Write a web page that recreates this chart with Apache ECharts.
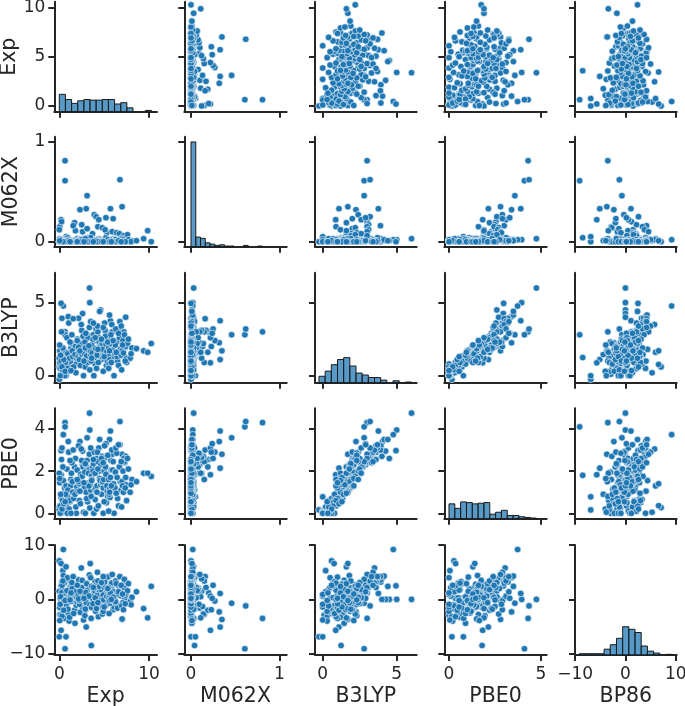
<!DOCTYPE html>
<html><head><meta charset="utf-8">
<script src="https://cdn.jsdelivr.net/npm/echarts@6/dist/echarts.min.js"></script>
<style>html,body{margin:0;padding:0;background:#fff}#c{width:685px;height:706px}</style>
</head><body><div id="c"></div>
<script>
// ---------- DATA ----------
const varNames = ['Exp', 'M062X', 'B3LYP', 'PBE0', 'BP86'];

const exp = [
 3.37,3.4,0.45,0.2,0.64,0.64,6.76,3.1,7.0,3.0,
 2.3,5.7,0.2,0.0,0.2,0.0,0.75,3.57,4.6,2.6,
 7.4,0.3,1.0,2.15,5.6,0.05,0.0,0.15,0.3,0.1,
 0.4,0.55,0.2,0.6,0.05,0.35,0.5,0.25,0.6,0.45,
 0.8,0.9,1.0,1.2,0.75,1.3,1.1,0.85,1.25,0.95,
 1.35,0.7,1.05,1.15,0.9,1.7,1.8,1.5,1.9,1.45,
 2.0,1.6,1.55,1.95,1.4,1.75,1.85,2.6,2.1,2.4,
 2.7,2.25,2.5,2.2,2.65,2.35,2.55,2.15,2.45,3.1,
 2.8,3.2,2.9,3.3,3.0,3.35,2.85,3.15,3.25,2.95,
 3.05,3.4,3.9,3.7,3.5,3.6,4.0,3.45,3.8,3.55,
 4.1,3.65,3.85,3.75,3.95,3.5,4.05,4.4,4.2,4.5,
 4.7,4.3,4.6,4.15,4.45,4.75,4.25,4.55,4.35,4.65,
 4.2,4.5,4.8,5.2,5.3,4.9,5.0,5.4,5.1,4.85,
 5.25,5.45,4.95,5.15,5.35,5.05,4.9,5.3,5.2,6.0,
 5.6,5.8,6.1,5.5,5.9,5.65,6.05,5.75,5.55,5.95,
 5.85,6.15,5.7,5.5,6.4,6.2,6.7,6.5,6.3,6.8,
 6.6,6.25,6.75,6.45,7.3,6.9,7.1,7.5,7.2,7.0,
 7.4,6.95,7.25,7.45,7.15,7.6,7.9,8.1,7.7,8.0,
 8.6,9.4,10.25,9.85,
 0.1,0.3,0.5,0.15,0.65,0.4,0.05,1.3,2.3,2.9,
 3.3,3.6,4.0,4.3,4.7,5.0,5.4,5.6,6.0,6.35,
 6.6,7.05,7.35,2.0,1.2,3.8,4.9,5.8,2.75,6.9
];
const m062x = [
 0.03,0.02,0.02,0.0,0.81,0.61,0.62,0.46,0.35,0.33,
 0.32,0.33,0.22,0.0,0.01,0.0,0.05,0.04,0.01,0.01,
 0.02,0.0,0.01,0.03,0.02,0.15,0.12,0.0,0.01,0.0,
 0.01,0.02,0.0,0.02,0.03,0.0,0.01,0.2,0.0,0.01,
 0.0,0.02,0.01,0.0,0.03,0.0,0.02,0.01,0.0,0.04,
 0.01,0.0,0.02,0.0,0.01,0.19,0.11,0.0,0.02,0.01,
 0.01,0.0,0.16,0.03,0.0,0.01,0.0,0.1,0.02,0.0,
 0.01,0.01,0.17,0.0,0.03,0.0,0.02,0.01,0.02,0.13,
 0.0,0.04,0.01,0.01,0.0,0.03,0.0,0.02,0.01,0.02,
 0.0,0.01,0.27,0.08,0.0,0.02,0.01,0.01,0.0,0.03,
 0.25,0.0,0.01,0.02,0.0,0.04,0.01,0.22,0.0,0.02,
 0.01,0.15,0.0,0.01,0.03,0.0,0.02,0.01,0.0,0.02,
 0.0,0.01,0.14,0.24,0.09,0.0,0.02,0.01,0.12,0.0,
 0.03,0.01,0.0,0.02,0.02,0.0,0.01,0.0,0.04,0.23,
 0.0,0.01,0.02,0.01,0.1,0.0,0.03,0.01,0.0,0.02,
 0.01,0.0,0.02,0.0,0.09,0.01,0.08,0.0,0.01,0.03,
 0.0,0.02,0.01,0.0,0.06,0.01,0.0,0.02,0.06,0.01,
 0.0,0.03,0.01,0.0,0.02,0.07,0.0,0.01,0.02,0.0,
 0.01,0.03,0.0,0.11,
 0.0,0.01,0.0,0.02,0.0,0.0,0.01,0.0,0.0,0.03,
 0.0,0.0,0.01,0.0,0.0,0.0,0.02,0.0,0.0,0.0,
 0.01,0.0,0.0,0.0,0.0,0.0,0.0,0.0,0.0,0.0
];
const b3lyp = [
 6.0,5.0,4.77,4.95,3.0,2.8,3.2,2.8,1.7,1.1,
 2.25,3.76,0.88,0.6,0.77,-0.25,0.0,1.24,4.5,4.25,
 4.0,3.93,4.04,3.93,4.15,0.9,1.2,0.1,0.3,0.5,
 0.2,0.7,1.0,1.5,1.7,0.4,1.3,3.0,0.0,1.8,
 0.6,1.1,1.4,0.8,1.6,1.9,0.3,2.6,1.0,1.5,
 2.2,0.9,3.6,1.2,0.5,1.6,2.0,1.3,0.8,1.7,
 2.5,0.6,3.9,1.2,2.8,1.45,0.2,1.8,1.3,2.2,
 0.0,1.1,3.1,1.6,2.7,0.7,1.45,1.95,3.5,2.0,
 1.5,2.6,0.6,1.8,1.2,3.3,2.3,0.9,1.65,2.9,
 1.35,0.4,2.4,1.9,1.4,2.1,0.8,1.7,2.8,1.0,
 3.2,1.55,0.0,2.5,1.25,3.7,1.85,2.6,1.5,2.0,
 1.1,3.0,1.7,0.5,2.3,1.3,3.4,1.9,0.9,2.1,
 1.4,4.4,2.2,2.9,1.6,1.5,2.4,1.2,3.1,1.8,
 0.7,2.0,1.4,2.7,1.0,3.6,0.3,1.65,2.15,2.0,
 1.4,2.5,0.0,1.9,3.0,1.1,1.6,2.8,0.8,1.75,
 3.5,1.3,2.2,0.5,2.3,1.5,2.6,1.0,3.2,1.8,
 0.7,2.1,3.7,1.3,1.9,1.4,2.4,0.9,3.0,1.7,
 2.0,0.4,2.8,1.2,1.55,2.2,1.2,1.9,2.5,1.5,
 1.85,1.7,2.2,1.6,
 0.0,0.6,1.1,1.4,0.3,1.9,2.1,0.35,1.7,1.9,
 2.05,1.2,2.6,1.8,2.5,1.3,2.3,1.7,2.4,1.6,
 2.9,2.1,1.0,2.4,2.3,3.6,3.3,0.9,1.0,3.4
];
const pbe0 = [
 4.75,3.95,3.73,2.97,4.3,4.1,4.35,3.58,2.8,2.14,
 3.4,3.9,1.83,0.27,0.36,0.16,0.78,1.8,2.6,2.95,
 2.7,3.1,3.4,3.2,3.5,1.6,1.9,0.0,0.15,0.35,
 0.05,0.5,0.75,1.2,1.45,0.6,0.95,2.55,0.1,1.55,
 0.4,0.8,1.15,0.55,1.3,1.6,0.2,2.1,1.3,1.1,
 1.9,0.9,2.9,0.6,0.0,2.2,2.6,1.0,0.0,1.5,
 2.05,0.7,3.0,1.25,2.4,0.9,0.3,2.3,1.05,1.85,
 0.05,0.6,2.5,1.4,2.2,0.45,1.75,1.5,3.05,2.5,
 1.25,2.15,0.0,1.45,1.0,2.8,1.95,0.55,1.9,2.3,
 0.7,0.25,2.9,2.2,1.1,1.8,0.65,1.4,2.35,0.8,
 2.6,1.6,0.0,2.0,1.15,3.1,1.2,3.1,1.3,1.65,
 0.9,2.45,1.35,0.2,2.0,1.45,2.9,1.55,0.35,2.3,
 1.0,3.5,2.7,3.3,1.9,1.2,2.0,0.8,2.65,1.5,
 0.5,1.75,1.6,2.2,1.05,3.2,0.0,1.3,1.85,2.9,
 1.15,2.05,0.0,1.6,2.8,0.75,1.4,2.5,0.9,2.05,
 3.0,1.1,1.7,0.1,2.85,1.2,2.2,0.7,3.1,1.5,
 0.35,1.95,3.25,1.7,2.4,1.1,2.0,0.6,2.6,1.5,
 1.7,0.3,2.45,1.35,1.0,2.6,1.0,1.6,2.1,1.35,
 1.5,1.9,1.75,1.9,
 0.0,0.2,0.45,0.9,0.55,2.2,1.65,0.0,1.05,2.35,
 1.3,1.55,1.9,2.1,2.6,0.55,2.75,1.0,2.45,0.95,
 3.25,1.3,1.2,1.6,2.5,2.55,2.4,1.3,1.45,2.45
];
const bp86 = [
 0.0,0.0,9.2,2.5,-3.5,-9.1,-1.2,-0.7,-3.7,-5.1,
 -2.3,1.1,-5.7,7.1,6.6,-6.9,-6.9,-8.5,0.0,0.0,
 0.0,3.2,4.0,3.6,4.3,-2.8,1.5,-2.9,-3.1,0.2,
 5.3,3.0,-0.8,0.9,-1.5,1.8,-0.3,1.2,0.6,4.4,
 -1.2,0.3,-2.5,2.2,6.0,-0.4,-4.0,1.6,0.8,-1.8,
 2.7,0.0,3.7,-3.3,4.0,-2.0,0.5,1.0,-1.1,2.0,
 -0.5,-2.6,4.2,0.4,3.1,-4.4,1.4,-1.6,0.7,1.9,
 -3.8,-0.9,2.2,-0.2,0.9,-2.4,3.5,0.1,5.8,-1.3,
 1.1,2.5,-2.0,0.3,-0.6,4.5,-3.0,1.7,0.8,1.3,
 2.9,-1.0,-0.3,2.1,0.5,-1.5,3.3,6.6,1.0,-3.5,
 2.6,0.2,0.9,-0.8,1.6,4.0,-2.2,0.6,2.0,-1.0,
 0.4,3.4,-0.2,-1.7,1.3,2.8,5.0,0.0,-3.2,1.8,
 0.7,2.4,-2.7,0.2,1.5,0.8,2.3,-0.5,3.8,-1.3,
 0.3,1.1,-0.1,2.6,4.1,3.2,-2.2,0.5,-1.1,-1.9,
 0.9,2.0,-1.4,0.1,4.6,-0.7,1.4,2.8,-2.6,0.6,
 3.0,-0.3,1.2,2.2,-0.9,0.4,1.8,-1.6,3.4,0.7,
 2.5,-0.4,4.2,1.0,0.3,1.9,-0.6,3.0,2.2,-3.6,
 0.8,-1.2,3.7,1.2,-1.9,1.6,-0.4,0.4,2.9,-1.0,
 1.4,-1.7,2.4,-3.4,
 -0.9,2.6,-2.0,0.5,-0.2,3.4,-3.9,1.2,1.5,-1.8,
 0.6,2.4,0.3,-0.6,3.1,-1.4,2.0,-0.2,0.4,2.9,
 1.4,1.0,-0.8,2.6,-0.1,2.2,4.2,0.0,0.2,2.6
];

// histogram counts (15 equal bins over each variable's data range)
const expHist   = [27,19,13,17,19,18,18,19,19,12,14,6,0,0,2];
const m062xHist = [163,15,13,6,4,2,3,1,1,0,0,2,0,0,1];
const b3lypHist = [10,18,28,36,39,26,15,12,8,8,4,0,3,0,1];
const pbe0Hist  = [23,16,26,25,23,24,25,7,10,13,5,5,3,2,1];
const bp86Hist  = [2,2,2,2,9,16,26,44,40,35,14,6,3,0,1];
const histRange = [[0,10.27],[0,0.81],[-0.25,6.0],[0,4.75],[-9.16,9.29]];

// tick values
const xTickVals = [[0,10],[0,1],[0,5],[0,5],[-10,0,10]];
const yTickVals = [[0,5,10],[0,1],[0,5],[0,2,4],[-10,0,10]];

// ---------- LAYOUT ----------
const colLeft  = [54.3,184.3,315,444.3,575];
const colWidth = [102.7,102.4,101.7,102.4,101.7];
const rowTop   = [1.7,136.7,272.7,408.3,545];
const rowHeight= [110,110,110,110.4,110];
const xRange = [[-0.557,10.89],[-0.076,1.084],[-0.52,6.35],[-0.255,5.31],[-10.03,10.2]];
const yRange = [[-0.578,10.57],[-0.05,1.05],[-0.48,7.05],[-0.257,4.98],[-10.25,10.03]];

const cols = [exp, m062x, b3lyp, pbe0, bp86];
const hists = [expHist, m062xHist, b3lypHist, pbe0Hist, bp86Hist];
const countMax = Math.max(...hists.map(h => Math.max(...h))) * 1.05;

const INK = '#262626';
const FONT = 'DejaVu Sans';
const TICK_FS = 17, NAME_FS = 20.5;
const fmt = v => v < 0 ? '\u2212' + Math.abs(v) : String(v);

const grids = [], xAxes = [], yAxes = [], series = [];

for (let i = 0; i < 5; i++) {
  for (let j = 0; j < 5; j++) {
    const g = i * 5 + j;
    grids.push({ left: colLeft[j], top: rowTop[i], width: colWidth[j], height: rowHeight[i],
                 containLabel: false, outerBoundsMode: 'none' });
    xAxes.push({
      type: 'value', gridIndex: g, min: xRange[j][0], max: xRange[j][1],
      axisLine: { show: true, onZero: false, lineStyle: { color: INK, width: 2 } },
      splitLine: { show: false },
      axisTick: { show: true, length: 6, customValues: xTickVals[j], lineStyle: { color: INK, width: 2 } },
      axisLabel: { show: i === 4, customValues: xTickVals[j], formatter: fmt, margin: 11,
                   showMinLabel: true, showMaxLabel: true,
                   fontFamily: FONT, fontSize: TICK_FS, color: INK },
      name: i === 4 ? varNames[j] : '', nameLocation: 'middle', nameGap: 31,
      nameTextStyle: { fontFamily: FONT, fontSize: NAME_FS, color: INK }
    });
    yAxes.push({
      type: 'value', gridIndex: g, min: yRange[i][0], max: yRange[i][1],
      axisLine: { show: true, onZero: false, lineStyle: { color: INK, width: 2 } },
      splitLine: { show: false },
      axisTick: { show: true, length: 6, customValues: yTickVals[i], lineStyle: { color: INK, width: 2 } },
      axisLabel: { show: j === 0, customValues: yTickVals[i], formatter: fmt, margin: 9,
                   showMinLabel: true, showMaxLabel: true,
                   fontFamily: FONT, fontSize: TICK_FS, color: INK },
      name: j === 0 ? varNames[i] : '', nameLocation: 'middle', nameGap: 32, nameRotate: 90,
      nameTextStyle: { fontFamily: FONT, fontSize: NAME_FS, color: INK }
    });
    if (i !== j) {
      const xs = cols[j], ys = cols[i];
      series.push({
        type: 'scatter', xAxisIndex: g, yAxisIndex: g,
        symbol: 'circle', symbolSize: 6.6,
        itemStyle: { color: '#1f77b4', borderColor: '#ffffff', borderWidth: 0.6, opacity: 1 },
        data: xs.map((v, k) => [v, ys[k]]),
        silent: true, z: 2
      });
    }
  }
}
// hidden count axes for diagonal histograms
for (let i = 0; i < 5; i++) {
  const g = i * 5 + i;
  yAxes.push({ type: 'value', gridIndex: g, min: 0, max: countMax, show: false, splitLine: { show: false } });
  const h = hists[i], r = histRange[i], n = h.length, w = (r[1] - r[0]) / n;
  const data = h.map((c, b) => [r[0] + b * w, r[0] + (b + 1) * w, c]);
  series.push({
    type: 'custom', xAxisIndex: g, yAxisIndex: 25 + i, silent: true, z: 2,
    renderItem: (params, api) => {
      const c = api.value(2);
      if (!c) return null;
      const p0 = api.coord([api.value(0), 0]);
      const p1 = api.coord([api.value(1), c]);
      return { type: 'rect',
        shape: { x: p0[0], y: p1[1], width: p1[0] - p0[0], height: p0[1] - p1[1] },
        style: { fill: 'rgba(31,119,180,0.75)', stroke: '#1a1a1a', lineWidth: 1 } };
    },
    encode: { x: [0, 1], y: 2 },
    data: data
  });
}

const chart = echarts.init(document.getElementById('c'), null, { renderer: 'canvas' });
chart.setOption({
  animation: false,
  backgroundColor: '#ffffff',
  grid: grids, xAxis: xAxes, yAxis: yAxes, series: series
});
</script>
</body></html>
